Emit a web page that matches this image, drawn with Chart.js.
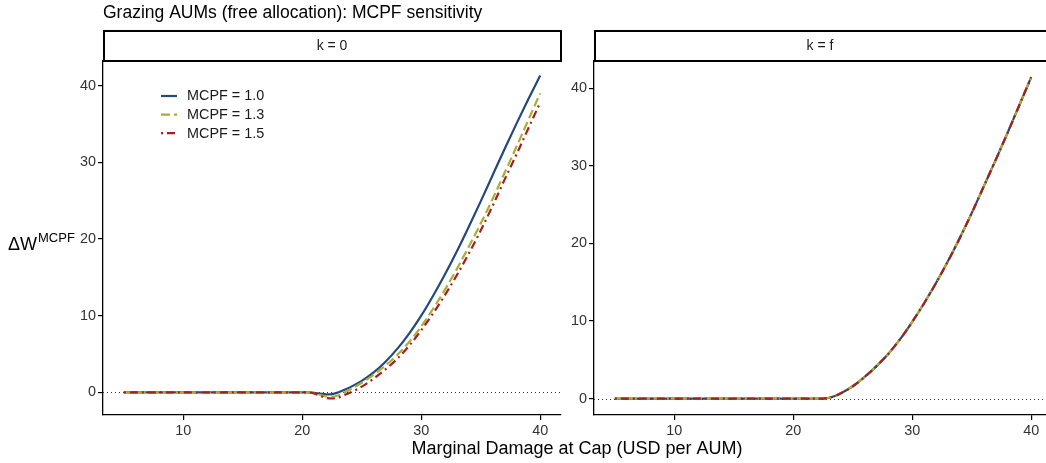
<!DOCTYPE html>
<html>
<head>
<meta charset="utf-8">
<script src="https://cdn.jsdelivr.net/npm/chart.js@4/dist/chart.umd.min.js"></script>
<style>
  html, body { margin: 0; padding: 0; background: #fff; overflow: hidden; width: 1046px; height: 463px; }
  #wrap { position: relative; width: 1046px; height: 463px; overflow: hidden; }
  canvas { position: absolute; top: 0; }
  #panelK0 { left: 0; }
  #panelKf { left: 560px; }
</style>
</head>
<body>
<div id="wrap">
  <canvas id="panelK0" width="1046" height="463"></canvas>
  <canvas id="panelKf" width="500" height="463"></canvas>
</div>
<script>
// Marginal damage at the cap (USD per AUM)
const mdCap = [5,6,7,8,9,10,11,12,13,14,15,16,17,18,19,20,
               20.5,21,21.5,22,22.5,23,23.5,24,
               25,26,27,28,29,30,31,32,33,34,35,36,37,38,39,40];

// Panel k = 0
const k0Mcpf10 = [0,0,0,0,0,0,0,0,0,0,0,0,0,0,0,0,
                  0,-0.05,-0.17,-0.26,-0.23,-0.02,0.3,0.65,
                  1.5,2.6,4.0,5.7,7.7,10.0,12.6,15.4,18.4,21.6,24.9,28.3,31.7,35.0,38.2,41.3];
const k0Mcpf13 = [0,0,0,0,0,0,0,0,0,0,0,0,0,0,0,0,
                  0,-0.1,-0.33,-0.52,-0.56,-0.4,-0.05,0.35,
                  1.25,2.3,3.5,4.9,6.6,8.6,10.9,13.4,16.1,19.0,22.0,25.2,28.6,32.0,35.5,39.0];
const k0Mcpf15 = [0,0,0,0,0,0,0,0,0,0,0,0,0,0,0,0,
                  0,-0.15,-0.45,-0.72,-0.8,-0.68,-0.38,-0.05,
                  0.75,1.8,3.0,4.4,6.1,8.1,10.3,12.7,15.3,18.1,21.1,24.3,27.7,31.0,34.4,37.8];

// Panel k = f
const kfMcpf10 = [0,0,0,0,0,0,0,0,0,0,0,0,0,0,0,0,
                  0,0,0,0,0.02,0.12,0.35,0.7,
                  1.6,2.8,4.2,5.8,7.7,9.9,12.3,14.9,17.7,20.7,23.9,27.3,30.7,34.2,37.8,41.4];
const kfMcpf13 = kfMcpf10.slice();
const kfMcpf15 = kfMcpf10.slice();

const seriesLabels = ['MCPF = 1.0', 'MCPF = 1.3', 'MCPF = 1.5'];
const panelLabels = ['k = 0', 'k = f'];
const xTicks = [10, 20, 30, 40];
const yTicks = [0, 10, 20, 30, 40];

const FONT = '"Liberation Sans", Arial, Helvetica, sans-serif';
const COLORS = ['#24497a', '#a9ae35', '#a31f22'];
const DASHES = [[], [9, 4], [2, 4, 8, 4]];

const pts = (ys) => mdCap.map((x, i) => ({ x: x, y: ys[i] }));

function makeDatasets(arrs) {
  return arrs.map((ys, i) => ({
    label: seriesLabels[i],
    data: pts(ys),
    borderColor: COLORS[i],
    borderWidth: 2.2,
    borderDash: DASHES[i],
    pointRadius: 0,
    fill: false,
    cubicInterpolationMode: 'monotone',
    order: 2 - i
  }));
}

// Facet strip above the panel
const stripPlugin = {
  id: 'strip',
  afterDraw(chart, args, opts) {
    const { ctx, chartArea } = chart;
    ctx.save();
    ctx.fillStyle = '#fff';
    ctx.strokeStyle = '#000';
    ctx.lineWidth = 2;
    const x0 = chartArea.left + 1, x1 = chartArea.right;
    ctx.fillRect(x0, 31, x1 - x0, 30);
    ctx.strokeRect(x0, 31, x1 - x0, 30);
    ctx.fillStyle = '#1a1a1a';
    ctx.font = '14px ' + FONT;
    ctx.textAlign = 'center';
    ctx.textBaseline = 'middle';
    ctx.fillText(opts.text, (chartArea.left + Math.min(chartArea.right, 1046 - chart.canvas.offsetLeft)) / 2 + (opts.shift || 0), 46.5);
    ctx.restore();
  }
};

// Dotted reference line at zero
const zeroLinePlugin = {
  id: 'zeroLine',
  beforeDatasetsDraw(chart) {
    const { ctx, chartArea, scales } = chart;
    const y = Math.round(scales.y.getPixelForValue(0)) + 0.5;
    ctx.save();
    ctx.strokeStyle = '#333';
    ctx.lineWidth = 1;
    ctx.setLineDash([1, 3]);
    ctx.beginPath();
    ctx.moveTo(chartArea.left, y);
    ctx.lineTo(chartArea.right, y);
    ctx.stroke();
    ctx.restore();
  }
};

// Legend inside the k = 0 panel, plus title and axis titles
const annotPlugin = {
  id: 'annot',
  afterDraw(chart) {
    const { ctx } = chart;
    ctx.save();
    // legend
    chart.data.datasets.forEach((ds, i) => {
      const y = 96 + i * 18.6;
      ctx.strokeStyle = ds.borderColor;
      ctx.lineWidth = ds.borderWidth;
      ctx.setLineDash(ds.borderDash);
      ctx.beginPath();
      ctx.moveTo(161, y);
      ctx.lineTo(177, y);
      ctx.stroke();
      ctx.setLineDash([]);
      ctx.fillStyle = '#1a1a1a';
      ctx.font = '14.4px ' + FONT;
      ctx.textAlign = 'left';
      ctx.textBaseline = 'middle';
      ctx.fillText(ds.label, 187, y + 0.5);
    });
    // title
    ctx.fillStyle = '#000';
    ctx.font = '17.5px ' + FONT;
    ctx.textAlign = 'left';
    ctx.textBaseline = 'alphabetic';
    ctx.fillText('Grazing AUMs (free allocation): MCPF sensitivity', 103, 18);
    // x axis title
    ctx.font = '18px ' + FONT;
    ctx.textAlign = 'center';
    ctx.fillText('Marginal Damage at Cap (USD per AUM)', 577, 454);
    // y axis title: ΔW with superscript
    ctx.textAlign = 'left';
    ctx.font = '18px ' + FONT;
    const base = 'ΔW';
    ctx.fillText(base, 8, 250);
    const w = ctx.measureText(base).width;
    ctx.font = '13px ' + FONT;
    ctx.fillText('MCPF', 8 + w + 1, 242);
    ctx.restore();
  }
};

function axisCommon(min, max, ticks) {
  return {
    type: 'linear',
    min: min,
    max: max,
    afterBuildTicks: (s) => { s.ticks = ticks.map(v => ({ value: v })); },
    grid: { display: true, drawOnChartArea: false, drawTicks: true, tickLength: 5, color: '#000', lineWidth: 1.2 },
    border: { display: true, color: '#000', width: 1.3 },
    ticks: { font: { family: FONT, size: 14.4 }, color: '#333', padding: 2, maxRotation: 0, autoSkip: false }
  };
}

function makeChart(canvasId, arrs, yMin, yMax, yWidth, padRight, stripText, extraPlugins) {
  const xs = axisCommon(3.25, 41.75, xTicks);
  xs.afterFit = (s) => { s.height = 48; };
  const ys = axisCommon(yMin, yMax, yTicks);
  ys.afterFit = (s) => { s.width = yWidth; };
  return new Chart(document.getElementById(canvasId), {
    type: 'line',
    data: { datasets: makeDatasets(arrs) },
    options: {
      responsive: false,
      animation: false,
      devicePixelRatio: 1,
      parsing: false,
      layout: { padding: { left: 0, right: padRight, top: 61, bottom: 0 } },
      plugins: {
        legend: { display: false },
        tooltip: { enabled: false },
        strip: { text: stripText }
      },
      scales: { x: xs, y: ys }
    },
    plugins: [zeroLinePlugin, stripPlugin].concat(extraPlugins)
  });
}

makeChart('panelK0', [k0Mcpf10, k0Mcpf13, k0Mcpf15], -2.95, 43.2, 103, 1046 - 561, panelLabels[0], [annotPlugin]);
makeChart('panelKf', [kfMcpf10, kfMcpf13, kfMcpf15], -2.1, 43.5, 34, 8, panelLabels[1], []);
</script>
</body>
</html>
